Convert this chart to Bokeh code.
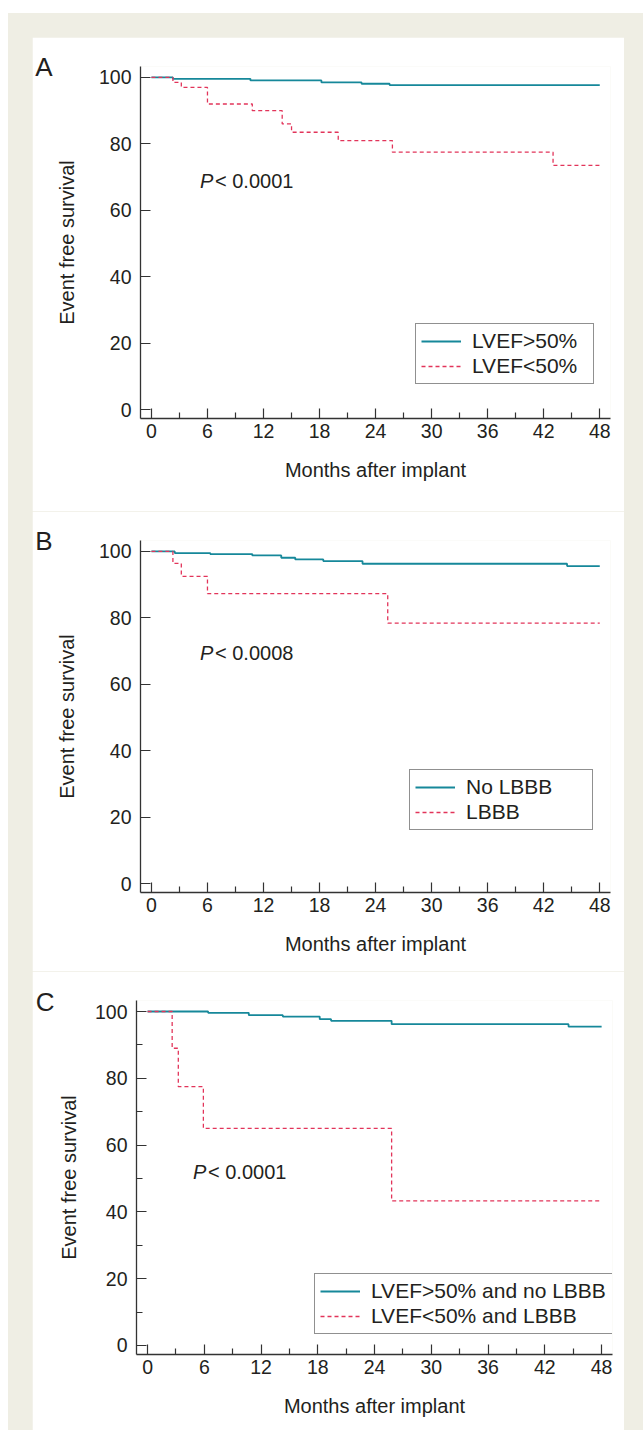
from bokeh.plotting import figure
from bokeh.models import FixedTicker, Label, Legend, LegendItem, Range1d, LinearAxis
from bokeh.layouts import column
from bokeh.embed import file_html
from bokeh.resources import INLINE

FONT = "Liberation Sans"
TEAL = "#16889a"
RED = "#e2345a"
INK = "#231f20"
AXIS = "#333333"
BEIGE = "#efeee4"

month_ticks = [0, 6, 12, 18, 24, 30, 36, 42, 48]
month_minor = [3, 9, 15, 21, 27, 33, 39, 45]
surv_ticks = [0, 20, 40, 60, 80, 100]
surv_minor_c = [10, 30, 50, 70, 90]

# Panel A: LVEF
a_hi_t = [0, 2.3, 10.6, 18.2, 22.5, 25.5, 48]
a_hi_s = [100, 99.6, 99.1, 98.5, 98.1, 97.7, 97.7]
a_lo_t = [0, 2.3, 3.2, 6.0, 10.8, 14.0, 15.0, 20.0, 25.8, 43.0, 48]
a_lo_s = [100, 98.5, 97.0, 92.0, 90.0, 86.0, 83.5, 81.0, 77.5, 73.5, 73.5]
a_labels = ["LVEF>50%", "LVEF<50%"]
a_p = "< 0.0001"

# Panel B: LBBB
b_no_t = [0, 2.5, 6.3, 10.8, 13.9, 15.4, 18.4, 22.6, 44.5, 48]
b_no_s = [100, 99.5, 99.2, 98.8, 98.1, 97.6, 97.1, 96.3, 95.6, 95.6]
b_yes_t = [0, 2.3, 3.2, 6.0, 25.3, 48]
b_yes_s = [100, 96.4, 92.5, 87.3, 78.4, 78.4]
b_labels = ["No LBBB", "LBBB"]
b_p = "< 0.0008"

# Panel C: combined
c_hi_t = [0, 6.4, 10.7, 14.3, 18.2, 19.4, 25.8, 44.5, 48]
c_hi_s = [100, 99.6, 98.9, 98.5, 97.7, 97.2, 96.2, 95.5, 95.5]
c_lo_t = [0, 2.6, 3.25, 5.9, 25.8, 48]
c_lo_s = [100, 89.0, 77.5, 65.0, 43.3, 43.3]
c_labels = ["LVEF>50% and no LBBB", "LVEF<50% and LBBB"]
c_p = "< 0.0001"


def style_axis(ax):
    ax.axis_line_color = AXIS
    ax.axis_line_width = 1.3
    ax.major_tick_line_color = AXIS
    ax.minor_tick_line_color = AXIS
    ax.major_tick_line_width = 1.2
    ax.minor_tick_line_width = 1.2
    ax.major_tick_in = 10
    ax.major_tick_out = 0
    ax.minor_tick_in = 6
    ax.minor_tick_out = 0
    ax.major_label_text_font = FONT
    ax.major_label_text_font_size = "19.5px"
    ax.major_label_text_color = INK
    ax.axis_label_text_font = FONT
    ax.axis_label_text_font_size = "20px"
    ax.axis_label_text_font_style = "normal"
    ax.axis_label_text_color = INK


def panel(letter, t1, s1, t2, s2, labels, ptext, p_xy, ylabel_standoff,
          height, mb_left, mb_right, mb_bottom, leg_loc, leg_label_w, minor_y):
    p = figure(width=592, height=height, output_backend="svg", toolbar_location=None,
               x_range=Range1d(-1.17, 49.15), y_range=Range1d(-2.7, 103.3),
               min_border_left=mb_left, min_border_right=mb_right,
               min_border_top=29, min_border_bottom=mb_bottom,
               background_fill_color="white", border_fill_color="white")
    p.outline_line_color = None
    p.grid.visible = False

    r1 = p.step(t1, s1, mode="after", line_color=TEAL, line_width=1.8)
    r2 = p.step(t2, s2, mode="after", line_color=RED, line_width=1.3, line_dash="4 3")

    style_axis(p.xaxis[0])
    style_axis(p.yaxis[0])
    p.xaxis.ticker = FixedTicker(ticks=month_ticks, minor_ticks=month_minor)
    p.yaxis.ticker = FixedTicker(ticks=surv_ticks, minor_ticks=(surv_minor_c if minor_y else []))
    p.xaxis.axis_label = "Months after implant"
    p.yaxis.axis_label = "Event free survival"
    p.xaxis.major_label_standoff = 5
    p.xaxis.axis_label_standoff = 18
    p.yaxis.major_label_standoff = 9
    p.yaxis.axis_label_standoff = ylabel_standoff

    # panel letter, shown as the only label of an outer, line-less left axis
    letter_axis = LinearAxis(ticker=FixedTicker(ticks=[103], minor_ticks=[]),
                             major_label_overrides={103: letter},
                             axis_line_color=None, major_tick_line_color=None,
                             minor_tick_line_color=None,
                             major_tick_in=0, major_tick_out=0,
                             minor_tick_in=0, minor_tick_out=0,
                             major_label_standoff=0,
                             major_label_text_font=FONT,
                             major_label_text_font_size="26px",
                             major_label_text_color=INK)
    p.add_layout(letter_axis, "left")

    legend = Legend(items=[LegendItem(label=labels[0], renderers=[r1]),
                           LegendItem(label=labels[1], renderers=[r2])],
                    location=leg_loc, margin=0, padding=5, spacing=1,
                    glyph_width=40, glyph_height=20, label_height=20,
                    label_width=leg_label_w, label_standoff=11,
                    label_text_font=FONT, label_text_font_size="21px",
                    label_text_color=INK, border_line_color="#222222",
                    border_line_width=1.2, background_fill_color="white",
                    background_fill_alpha=1.0)
    p.add_layout(legend)

    p.add_layout(Label(x=p_xy[0], y=p_xy[1], text="P", text_font=FONT,
                       text_font_size="20px", text_font_style="italic",
                       text_color=INK, text_baseline="middle"))
    p.add_layout(Label(x=p_xy[0], y=p_xy[1], x_offset=15, text=ptext, text_font=FONT,
                       text_font_size="20px", text_color=INK, text_baseline="middle"))
    return p


pa = panel("A", a_hi_t, a_hi_s, a_lo_t, a_lo_s, a_labels, a_p, (5.2, 68.7), 18,
           474, 107, 14, 93, (275, 34), 116, False)
pb = panel("B", b_no_t, b_no_s, b_yes_t, b_yes_s, b_labels, b_p, (5.2, 69.4), 18,
           460, 107, 14, 79, (269, 62), 121, False)
pc = panel("C", c_hi_t, c_hi_s, c_lo_t, c_lo_s, c_labels, c_p, (4.8, 52.0), 12,
           459, 101, 12, 76, (178, 20), 238, True)

# panel C in its own box so its frame is not lined up with A and B
inner = column(column(pa, pb), column(pc), margin=(24, 19, 0, 24))
page = column(inner, margin=(13, 0, 0, 8), styles={"background-color": BEIGE})

open("out.html", "w").write(file_html(page, INLINE))
